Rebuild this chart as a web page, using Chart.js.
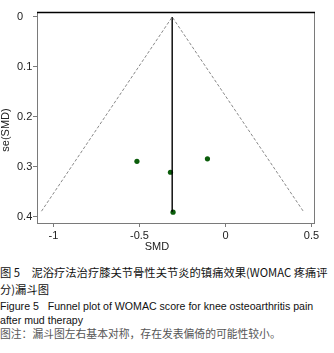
<!DOCTYPE html>
<html>
<head>
<meta charset="utf-8">
<script src="https://cdn.jsdelivr.net/npm/chart.js@4/dist/chart.umd.min.js"></script>
<style>
html,body{margin:0;padding:0;background:#fff;}
body{width:334px;height:353px;position:relative;overflow:hidden;}
#wrap{position:absolute;left:0;top:0;width:334px;height:255px;}
.cap{position:absolute;left:0;white-space:nowrap;color:#111;line-height:1;}
.zh{font-family:"Noto Sans CJK SC",sans-serif;font-size:11.3px;}
.en{font-family:"Liberation Sans",Arial,sans-serif;font-size:10.6px;}
.note{color:#555;font-size:10.8px;}
</style>
</head>
<body>
<div id="wrap"><canvas id="c" width="334" height="255"></canvas></div>
<div class="cap zh" style="top:267px;">图 5　泥浴疗法治疗膝关节骨性关节炎的镇痛效果(WOMAC 疼痛评</div>
<div class="cap zh" style="top:284px;">分)漏斗图</div>
<div class="cap en" style="top:301px;">Figure 5&nbsp;&nbsp;&nbsp;Funnel plot of WOMAC score for knee osteoarthritis pain</div>
<div class="cap en" style="top:315px;">after mud therapy</div>
<div class="cap zh note" style="top:328px;">图注：漏斗图左右基本对称，存在发表偏倚的可能性较小。</div>
<script>
// Study estimates
const studySMD = [-0.515, -0.32, -0.105, -0.305];
const studySE  = [0.289, 0.311, 0.284, 0.391];
// Pooled estimate line and pseudo 95% funnel
const pooledLineSMD = [-0.31, -0.31];
const pooledLineSE  = [0, 0.39];
const funnelSMD = [-1.07, -0.31, 0.452];
const funnelSE  = [0.389, 0, 0.389];
// Axis ticks
const xTicks = [-1, -0.5, 0, 0.5];
const xTickLabels = ["-1", "-0.5", "0", "0.5"];
const yTicks = [0, 0.1, 0.2, 0.3, 0.4];
const yTickLabels = ["0", "0.1", "0.2", "0.3", "0.4"];

const pts = (xs, ys) => xs.map((x, i) => ({x: x, y: ys[i]}));

const titlePlugin = {
  id: 'axisTitles',
  afterDraw(chart) {
    const ctx = chart.ctx;
    const a = chart.chartArea;
    ctx.save();
    ctx.strokeStyle = '#7a7a7a';
    ctx.lineWidth = 1;
    ctx.strokeRect(a.left + 0.5, a.top + 0.5, a.right - a.left, a.bottom - a.top);
    ctx.strokeStyle = '#000';
    ctx.lineWidth = 1.5;
    ctx.beginPath();
    ctx.moveTo(a.left, a.top + 0.5);
    ctx.lineTo(a.right + 1, a.top + 0.5);
    ctx.stroke();
    ctx.fillStyle = '#222';
    ctx.font = '11px "Liberation Sans", Arial, sans-serif';
    ctx.textAlign = 'center';
    ctx.textBaseline = 'middle';
    ctx.fillText('SMD', 157, 247);
    ctx.translate(6, 130);
    ctx.rotate(-Math.PI / 2);
    ctx.fillText('se(SMD)', 0, 0);
    ctx.restore();
  }
};

new Chart(document.getElementById('c'), {
  type: 'scatter',
  data: {
    datasets: [
      {
        type: 'line',
        data: pts(funnelSMD, funnelSE),
        borderColor: '#6a6a6a',
        borderWidth: 0.8,
        borderDash: [3, 2],
        pointRadius: 0,
        fill: false,
        tension: 0
      },
      {
        type: 'line',
        data: pts(pooledLineSMD, pooledLineSE),
        borderColor: '#000',
        borderWidth: 1.4,
        pointRadius: 0,
        fill: false
      },
      {
        data: pts(studySMD, studySE),
        backgroundColor: '#0b5d0b',
        borderColor: '#0b5d0b',
        pointRadius: 2.6,
        pointBorderWidth: 0
      }
    ]
  },
  options: {
    responsive: false,
    animation: false,
    devicePixelRatio: 1,
    layout: {padding: {left: 17, top: 12, right: 20, bottom: 0}},
    plugins: {legend: {display: false}, tooltip: {enabled: false}},
    scales: {
      x: {
        type: 'linear',
        min: -1.096,
        max: 0.5145,
        afterBuildTicks: s => { s.ticks = xTicks.map(v => ({value: v})); },
        afterFit: s => { s.height = 32; },
        grid: {drawOnChartArea: false, drawTicks: true, tickLength: 4, color: '#7a7a7a', tickColor: '#7a7a7a'},
        border: {display: true, color: '#7a7a7a'},
        ticks: {
          padding: 2,
          maxRotation: 0,
          autoSkip: false,
          color: '#222',
          font: {family: '"Liberation Sans", Arial, sans-serif', size: 11},
          callback: (v) => { const i = xTicks.indexOf(v); return i >= 0 ? xTickLabels[i] : ''; }
        }
      },
      y: {
        type: 'linear',
        reverse: true,
        min: -0.01,
        max: 0.4126,
        afterBuildTicks: s => { s.ticks = yTicks.map(v => ({value: v})); },
        afterFit: s => { s.width = 20; },
        grid: {drawOnChartArea: false, drawTicks: true, tickLength: 4, color: '#7a7a7a', tickColor: '#7a7a7a'},
        border: {display: true, color: '#7a7a7a'},
        ticks: {
          padding: 2,
          crossAlign: 'far',
          autoSkip: false,
          color: '#222',
          font: {family: '"Liberation Sans", Arial, sans-serif', size: 11},
          callback: (v) => { const i = yTicks.indexOf(v); return i >= 0 ? yTickLabels[i] : ''; }
        }
      }
    }
  },
  plugins: [titlePlugin]
});
</script>
</body>
</html>
